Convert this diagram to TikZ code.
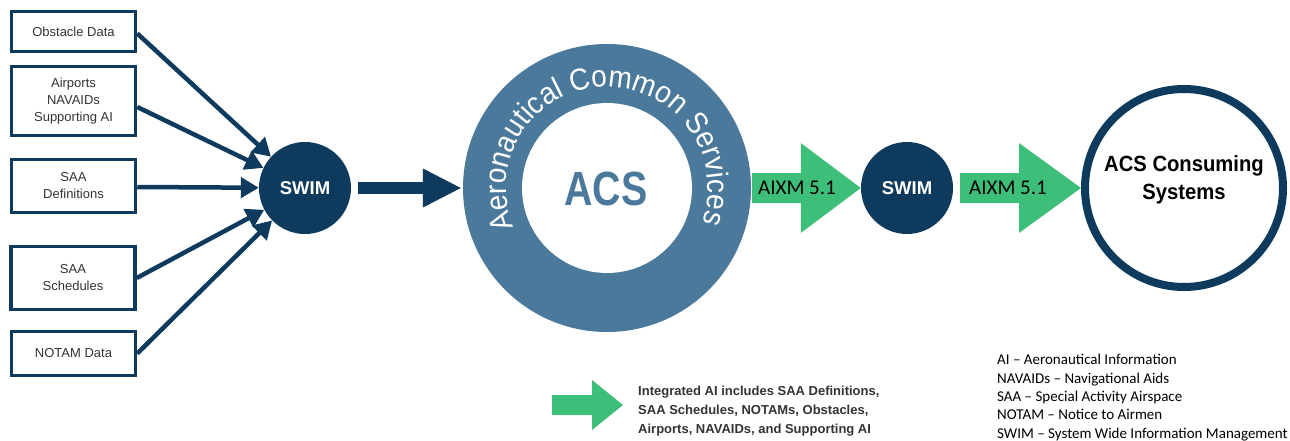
\documentclass[tikz,border=0pt]{standalone}
\usepackage{fontspec}
\setmainfont{Liberation Sans}
\newfontfamily\narrowsans{Liberation Sans}[FakeStretch=0.82]
\newfontfamily\semisans{Liberation Sans}[FakeStretch=0.92]
\newfontfamily\calib{Carlito}
\usetikzlibrary{arrows.meta,decorations.text,calc}
\definecolor{navy}{RGB}{14,58,93}
\definecolor{steel}{RGB}{74,121,156}
\definecolor{agreen}{RGB}{61,190,121}
\definecolor{txtgray}{RGB}{51,51,51}
\newcommand\ringfont{\semisans\fontsize{30.5}{30.5}\selectfont}
\begin{document}
\begin{tikzpicture}[x=1pt,y=1pt,
  srcbox/.style={draw=navy, line width=3.5pt, minimum width=124pt, inner sep=0pt,
    align=center, text=txtgray, font=\fontsize{13}{17}\selectfont},
  swimnode/.style={circle, fill=navy, minimum size=92pt, inner sep=0pt,
    text=white, font=\bfseries\fontsize{18.5}{20}\selectfont},
  feed/.style={draw=navy, line width=4.5pt, -{Triangle[length=18pt,width=20pt]}},
  blockarrow/.style={fill=agreen},
  aixm/.style={text=black, font=\calib\fontsize{21}{22}\selectfont, inner sep=0pt}]
\useasboundingbox (0,0) rectangle (1290,440);

% source boxes
\node[srcbox, minimum height=40pt] (b1) at (73.5,408.5) {Obstacle Data};
\node[srcbox, minimum height=69pt] (b2) at (73.5,339) {Airports\\NAVAIDs\\Supporting AI};
\node[srcbox, minimum height=53pt] (b3) at (73.5,254) {SAA\\Definitions};
\node[srcbox, minimum height=63pt] (b4) at (73,162) {SAA\\Schedules};
\node[srcbox, minimum height=44pt] (b5) at (73.5,86.5) {NOTAM Data};

% SWIM hubs
\node[swimnode] (swim1) at (305,252) {SWIM};
\node[swimnode] (swim2) at (907,252) {SWIM};

% ACS ring
\node[circle, fill=steel, minimum size=288pt, inner sep=0pt] (acs) at (607,252) {};
\node[circle, fill=white, minimum size=170pt, inner sep=0pt] (acsin) at (acs) {};
\node[text=steel, font=\narrowsans\bfseries\fontsize{48}{48}\selectfont] (acslabel) at (606,251) {ACS};
\path[decorate, decoration={text along path,
    text={|\ringfont|Aeronautical Common Services},
    text align=center, text color=white}]
  ($(acs.center)+(207:101)$) arc[start angle=207, end angle=-24, radius=101];

% consuming systems
\node[circle, draw=navy, line width=8pt, minimum size=198pt, inner sep=0pt] (cons) at (1184,252) {};
\node[font=\semisans\bfseries\fontsize{22}{28}\selectfont, align=center] (conslabel)
  at ([yshift=8]cons.center) {ACS Consuming\\Systems};

% feeds into SWIM
\draw[feed] ([yshift=-2]b1.east) -- (swim1);
\draw[feed] ([yshift=-6]b2.east) -- (swim1);
\draw[feed] ([yshift=-1]b3.east) -- (swim1);
\draw[feed] (b4.east) -- (swim1);
\draw[feed] (b5.east) -- (swim1);

% SWIM -> ACS
\draw[draw=navy, line width=12pt, -{Triangle[length=39pt,width=36pt]}]
  ([xshift=7]swim1.east) -- ([xshift=-1]acs.west);

% green block arrows
\fill[blockarrow] ($(acs.east)+(1,15)$) -- ($(swim2.west)+(-60,15)$) -- ($(swim2.west)+(-60,45)$)
  -- (swim2.west) -- ($(swim2.west)+(-60,-45)$) -- ($(swim2.west)+(-60,-15)$)
  -- ($(acs.east)+(1,-15)$) -- cycle;
\node[aixm] (ax1) at (797,252) {AIXM 5.1};
\fill[blockarrow] ($(swim2.east)+(7,15)$) -- ($(cons.west)+(-62,15)$) -- ($(cons.west)+(-62,45)$)
  -- (cons.west) -- ($(cons.west)+(-62,-45)$) -- ($(cons.west)+(-62,-15)$)
  -- ($(swim2.east)+(7,-15)$) -- cycle;
\node[aixm] (ax2) at (1008,252) {AIXM 5.1};

% legend arrow and text
\fill[blockarrow] (552,45) -- (592,45) -- (592,60) -- (623,35) -- (592,10) -- (592,25) -- (552,25) -- cycle;
\node[anchor=west, align=left, inner sep=0pt, text=txtgray,
  font=\bfseries\fontsize{13}{19}\selectfont] (leg1) at (638,29)
  {Integrated AI includes SAA Definitions,\\SAA Schedules, NOTAMs, Obstacles,\\Airports, NAVAIDs, and Supporting AI};
\node[anchor=west, align=left, inner sep=0pt, text=black,
  font=\calib\fontsize{15}{18.3}\selectfont] (leg2) at (997,42.5)
  {AI – Aeronautical Information\\NAVAIDs – Navigational Aids\\SAA – Special Activity Airspace\\NOTAM – Notice to Airmen\\SWIM – System Wide Information Management};
\end{tikzpicture}
\end{document}
